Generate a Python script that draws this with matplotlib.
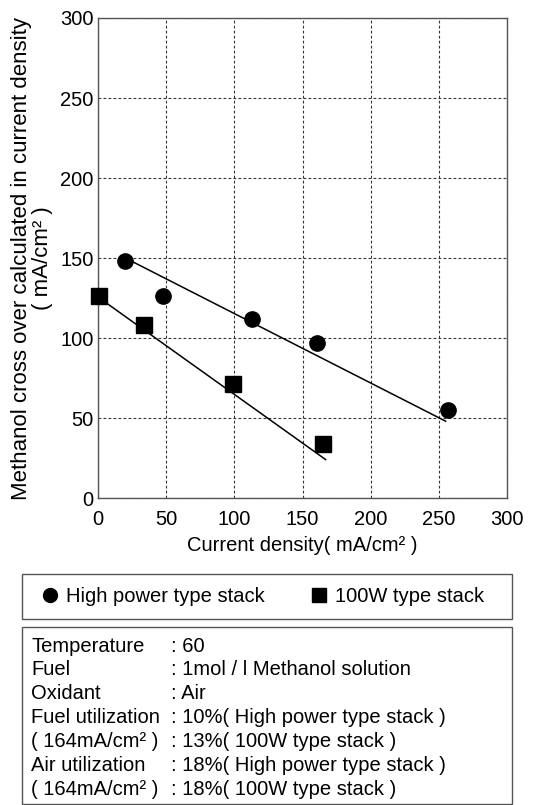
import matplotlib
matplotlib.use("Agg")
import matplotlib.pyplot as plt
from matplotlib.patches import Rectangle
from matplotlib.lines import Line2D

plt.rcParams['font.family'] = ['Liberation Sans', 'DejaVu Sans']

# ---- data ----
high_x = [20, 48, 113, 161, 257]
high_y = [148, 126, 112, 97, 55]
w100_x = [1, 34, 99, 165]
w100_y = [126, 108, 71, 34]
high_fit_x = [20, 255]
high_fit_y = [150, 48]
w100_fit_x = [1, 167]
w100_fit_y = [125, 24]
ticks = [0, 50, 100, 150, 200, 250, 300]
series_labels = ["High power type stack", "100W type stack"]
cond_names = ["Temperature", "Fuel", "Oxidant", "Fuel utilization",
              "( 164mA/cm² )", "Air utilization", "( 164mA/cm² )"]
cond_values = [": 60", ": 1mol / l Methanol solution", ": Air",
               ": 10%( High power type stack )", ": 13%( 100W type stack )",
               ": 18%( High power type stack )", ": 18%( 100W type stack )"]

W, H = 546, 805
fig = plt.figure(figsize=(W / 100, H / 100), dpi=100)

def fx(px):
    return px / W

def fy(py):
    return 1 - py / H

ax_l, ax_r, ax_t, ax_b = 98, 507, 18, 498
ax = fig.add_axes([fx(ax_l), fy(ax_b), (ax_r - ax_l) / W, (ax_b - ax_t) / H])
ax.set_xlim(0, 300)
ax.set_ylim(0, 300)
ax.set_xticks(ticks)
ax.set_yticks(ticks)
ax.tick_params(length=0, labelsize=14.5, colors='black')
ax.tick_params(axis='y', pad=3)
ax.tick_params(axis='x', pad=8.5)
for s in ax.spines.values():
    s.set_color('#555555')
    s.set_linewidth(1.0)
ax.grid(True, color='#333333', linestyle=(0, (2.5, 2)), linewidth=0.8)
ax.set_axisbelow(True)

ax.plot(high_fit_x, high_fit_y, color='black', lw=1.1, zorder=3)
ax.plot(w100_fit_x, w100_fit_y, color='black', lw=1.1, zorder=3)
ax.plot(high_x, high_y, 'o', color='black', ms=11, clip_on=False, zorder=4)
ax.plot(w100_x, w100_y, 's', color='black', ms=11, clip_on=False, zorder=4)

ax.set_xlabel("Current density( mA/cm² )", fontsize=14.5, labelpad=5.5)
ax.set_ylabel("Methanol cross over calculated in current density\n( mA/cm² )",
              fontsize=16, linespacing=1.0)
ax.yaxis.set_label_coords((53 - ax_l) / (ax_r - ax_l), 0.5)

# legend box
fig.patches.append(Rectangle((fx(22), fy(619)), (512 - 22) / W, (619 - 574) / H,
                             transform=fig.transFigure, fill=False,
                             edgecolor='#555555', linewidth=1.0))
handles = [Line2D([], [], marker='o', ls='', color='black', ms=10),
           Line2D([], [], marker='s', ls='', color='black', ms=10)]
leg = fig.legend(handles, series_labels, ncol=2, loc='center left',
                 bbox_to_anchor=(fx(40), fy(596.5)),
                 fontsize=14.5, frameon=False, handletextpad=0.3,
                 handlelength=1.0, borderpad=0, columnspacing=2.2,
                 borderaxespad=0)

# conditions box
fig.patches.append(Rectangle((fx(22), fy(804)), (512 - 22) / W, (804 - 627) / H,
                             transform=fig.transFigure, fill=False,
                             edgecolor='#555555', linewidth=1.0))
y0 = 646
for i, (n, v) in enumerate(zip(cond_names, cond_values)):
    yy = y0 + i * 23.9
    fig.text(fx(31), fy(yy), n, fontsize=14.5, va='center', ha='left')
    fig.text(fx(171), fy(yy), v, fontsize=14.5, va='center', ha='left')

fig.savefig("out.png", dpi=100)
